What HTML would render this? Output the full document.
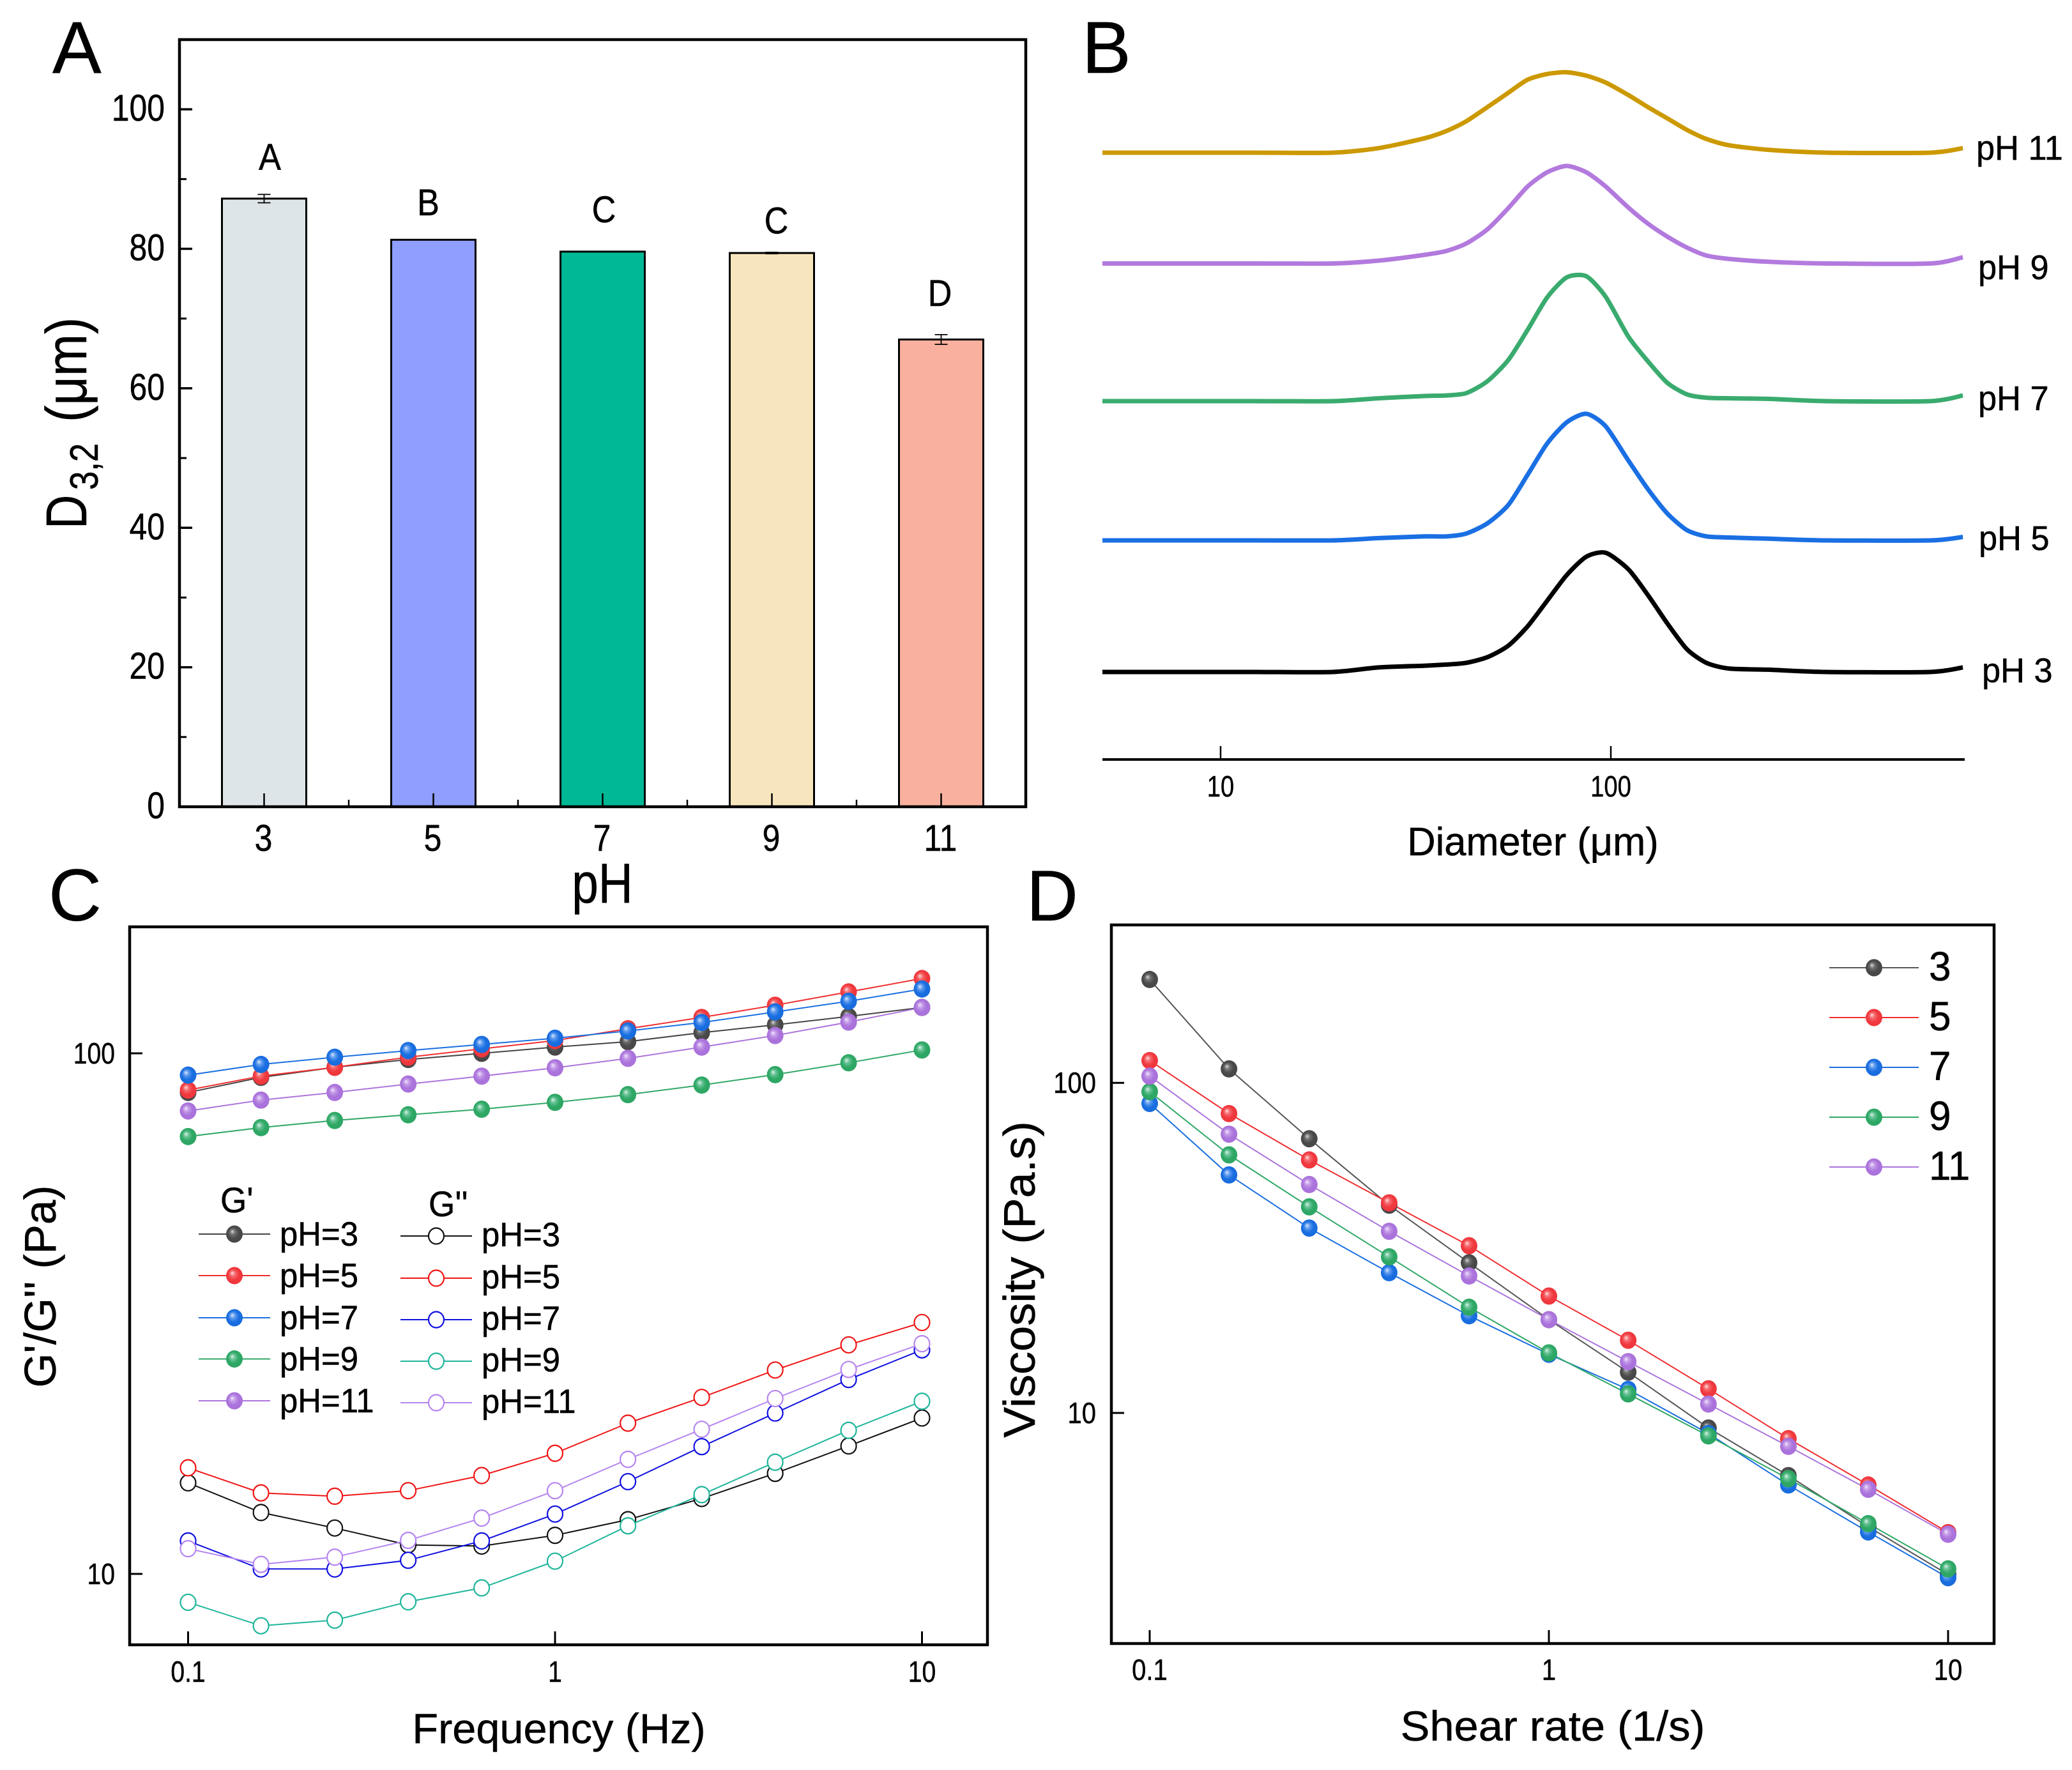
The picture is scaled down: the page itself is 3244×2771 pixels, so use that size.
<!DOCTYPE html>
<html lang="en">
<head>
<meta charset="utf-8">
<title>Emulsion particle size and rheology vs pH</title>
<style>
html,body{margin:0;padding:0;background:#fff;width:3244px;height:2771px;overflow:hidden}
svg{display:block}
text{font-family:"Liberation Sans",sans-serif;fill:#000;stroke:#000;stroke-width:.5px}
</style>
</head>
<body>
<svg id="fig" xmlns="http://www.w3.org/2000/svg" width="3244" height="2771" viewBox="0 0 3244 2771">
  <defs>
    <radialGradient id="sph-black" cx="0.5" cy="0.5" r="0.6" fx="0.36" fy="0.34"><stop offset="0" stop-color="#d8d8d8"/><stop offset="0.26" stop-color="#707070"/><stop offset="0.55" stop-color="#4a4a4a"/><stop offset="1" stop-color="#454545"/></radialGradient>
    <radialGradient id="sph-red" cx="0.5" cy="0.5" r="0.6" fx="0.36" fy="0.34"><stop offset="0" stop-color="#fde0e0"/><stop offset="0.26" stop-color="#f56a6e"/><stop offset="0.55" stop-color="#f03a40"/><stop offset="1" stop-color="#ee3338"/></radialGradient>
    <radialGradient id="sph-blue" cx="0.5" cy="0.5" r="0.6" fx="0.36" fy="0.34"><stop offset="0" stop-color="#dce8fb"/><stop offset="0.26" stop-color="#5c9aee"/><stop offset="0.55" stop-color="#1a6fe0"/><stop offset="1" stop-color="#1769dc"/></radialGradient>
    <radialGradient id="sph-green" cx="0.5" cy="0.5" r="0.6" fx="0.36" fy="0.34"><stop offset="0" stop-color="#dcf3e7"/><stop offset="0.26" stop-color="#66c294"/><stop offset="0.55" stop-color="#2fa866"/><stop offset="1" stop-color="#2ba562"/></radialGradient>
    <radialGradient id="sph-purple" cx="0.5" cy="0.5" r="0.6" fx="0.36" fy="0.34"><stop offset="0" stop-color="#f2e7fb"/><stop offset="0.26" stop-color="#c49ae8"/><stop offset="0.55" stop-color="#ab74dc"/><stop offset="1" stop-color="#a870da"/></radialGradient>
  </defs>
  <g id="panel-a"></g>
  <g id="panel-b"></g>
  <g id="panel-c"></g>
  <g id="panel-d"></g>
</svg>
<script>
// ---------- Panel A data ----------
const barCategories = ['3', '5', '7', '9', '11'];
const barValues = [87.2, 81.3, 79.6, 79.4, 67.0];
const barErrors = [0.6, 0, 0, 0.1, 0.7];
const barLetters = ['A', 'B', 'C', 'C', 'D'];
const barLetterValues = [91.3, 84.8, 83.8, 82.2, 71.8];
const barTicks = [0, 20, 40, 60, 80, 100];
const barMinorTicks = [10, 30, 50, 70, 90];

// ---------- Panel B data ----------
const diameters = [4.98, 7.88, 12.25, 19.4, 25.4, 33.2, 37.9, 42.6, 48.3, 54.6, 61.2, 68.7, 77.1, 86.5, 97, 110.9, 124.4, 139.6, 156.6, 175.7, 200.9, 252.9, 356.7, 659, 798];
const sizePH11 = [0, 0, 0, 0, 0.8, 2.5, 3.8, 5.5, 8, 10.5, 12.8, 13.8, 14.1, 13.5, 12.3, 10.1, 8, 6, 4, 2.4, 1.3, 0.5, 0, 0, 0.8];
const sizePH9 = [0, 0, 0, 0, 0.5, 1.5, 2.2, 3.5, 6, 9.7, 13.5, 16, 17.1, 16, 13.5, 9.8, 7, 4.7, 2.8, 1.4, 0.8, 0.3, 0, 0, 1.1];
const sizePH7 = [0, 0, 0, 0, 0.5, 0.9, 1, 1.4, 3.5, 7.2, 12.5, 18.2, 21.7, 21.9, 18.3, 11.3, 7, 3.2, 1.2, 0.6, 0.5, 0.4, 0, 0, 1];
const sizePH5 = [0, 0, 0, 0, 0.4, 0.7, 0.7, 1.2, 3, 6.2, 11.5, 17, 20.7, 22.2, 20, 14, 9, 4.7, 1.8, 0.7, 0.5, 0.3, 0, 0, 0.6];
const sizePH3 = [0, 0, 0, 0, 0.8, 1.1, 1.3, 1.6, 2.6, 4.6, 8, 12.5, 17, 20.2, 20.9, 18, 13.5, 8.5, 4, 1.6, 0.6, 0.4, 0, 0, 0.8];
const diameterTicks = [10, 100];

// ---------- Panel C data ----------
const frequencies = [0.1, 0.158, 0.251, 0.398, 0.631, 1, 1.58, 2.51, 3.98, 6.31, 10];
const storagePH3 = [84.1, 89.9, 94.0, 97.3, 100, 102.8, 105.3, 109.6, 113.4, 117.7, 122.5];
const storagePH5 = [85.0, 90.4, 94.0, 98.3, 102.0, 105.8, 111.5, 117.2, 123.7, 131.2, 139.2];
const storagePH7 = [90.8, 95.2, 98.3, 101.2, 104, 106.9, 110.4, 114.6, 120.1, 125.9, 132.9];
const storagePH9 = [69.2, 72.0, 74.3, 76.2, 78.1, 80.5, 83.3, 86.9, 91.0, 95.9, 101.5];
const storagePH11 = [77.5, 81.3, 84.1, 87.3, 90.4, 93.8, 97.8, 102.8, 108.2, 114.8, 122.5];
const lossPH3 = [14.96, 13.12, 12.25, 11.37, 11.31, 11.86, 12.71, 13.96, 15.60, 17.61, 19.93];
const lossPH5 = [15.99, 14.31, 14.10, 14.45, 15.45, 17.05, 19.48, 21.83, 24.64, 27.54, 30.40];
const lossPH7 = [11.57, 10.22, 10.22, 10.62, 11.57, 13.03, 15.04, 17.56, 20.37, 23.63, 26.94];
const lossPH9 = [8.82, 7.95, 8.15, 8.84, 9.40, 10.58, 12.37, 14.20, 16.39, 18.87, 21.46];
const lossPH11 = [11.18, 10.43, 10.77, 11.60, 12.80, 14.45, 16.60, 18.96, 21.72, 24.70, 27.68];
const freqTickValues = [0.1, 1, 10];
const freqTickLabels = ['0.1', '1', '10'];
const modulusTicks = [10, 100];

// ---------- Panel D data ----------
const shearRates = [0.1, 0.158, 0.251, 0.398, 0.631, 1, 1.58, 2.51, 3.98, 6.31, 10];
const viscPH3 = [205.6, 110.2, 67.7, 42.6, 28.5, 19.17, 13.29, 9.0, 6.46, 4.52, 3.24];
const viscPH5 = [116.8, 80.7, 58.4, 43.3, 32.1, 22.6, 16.6, 11.83, 8.36, 6.05, 4.34];
const viscPH7 = [86.6, 52.6, 36.3, 26.6, 19.7, 15.06, 11.78, 8.66, 6.05, 4.36, 3.17];
const viscPH9 = [94.0, 60.5, 42.1, 29.7, 20.9, 15.2, 11.42, 8.52, 6.32, 4.62, 3.37];
const viscPH11 = [104.8, 69.9, 49.2, 35.5, 26.0, 19.17, 14.3, 10.64, 7.92, 5.87, 4.29];
const viscTicks = [10, 100];

const NS = 'http://www.w3.org/2000/svg';

function shape(parent, tag, attrs, name) {
  const el = document.createElementNS(NS, tag);
  for (const k in attrs) el.setAttribute(k, attrs[k]);
  
  
  parent.appendChild(el);
  return el;
}
function label(parent, str, x, y, size, k, anchor, rot, name) {
  const el = document.createElementNS(NS, 'text');
  el.textContent = str;
  el.setAttribute('font-size', size);
  el.setAttribute('text-anchor', anchor || 'start');
  el.setAttribute('transform', 'translate(' + x + ' ' + y + ') rotate(' + (rot || 0) + ') scale(' + k + ' 1)');
  
  
  parent.appendChild(el);
  return el;
}
function tick(parent, x1, y1, x2, y2, w, name) {
  return shape(parent, 'line', {x1: x1, y1: y1, x2: x2, y2: y2, stroke: '#000', 'stroke-width': w}, name);
}
function frame(parent, box, name) {
  return shape(parent, 'rect', {x: box.l, y: box.t, width: box.r - box.l, height: box.b - box.t, fill: 'none', stroke: '#000', 'stroke-width': 4.5}, name);
}
function polyline(parent, pts, color, w, name) {
  return shape(parent, 'polyline', {points: pts.map(p => p[0].toFixed(1) + ',' + p[1].toFixed(1)).join(' '), fill: 'none', stroke: color, 'stroke-width': w, 'stroke-linejoin': 'round'}, name);
}
function smoothLine(parent, pts, color, w, name) {
  let d = 'M' + pts[0][0].toFixed(1) + ' ' + pts[0][1].toFixed(1);
  for (let i = 0; i < pts.length - 1; i++) {
    const p0 = pts[Math.max(i - 1, 0)], p1 = pts[i], p2 = pts[i + 1], p3 = pts[Math.min(i + 2, pts.length - 1)];
    const t = 0.12;
    const c1x = p1[0] + (p2[0] - p0[0]) * t, c1y = p1[1] + (p2[1] - p0[1]) * t;
    const c2x = p2[0] - (p3[0] - p1[0]) * t, c2y = p2[1] - (p3[1] - p1[1]) * t;
    d += 'C' + c1x.toFixed(1) + ' ' + c1y.toFixed(1) + ' ' + c2x.toFixed(1) + ' ' + c2y.toFixed(1) + ' ' + p2[0].toFixed(1) + ' ' + p2[1].toFixed(1);
  }
  return shape(parent, 'path', {d: d, fill: 'none', stroke: color, 'stroke-width': w, 'stroke-linejoin': 'round'}, name);
}
function solidMarker(parent, x, y, grad, name) {
  return shape(parent, 'ellipse', {cx: x, cy: y, rx: 13, ry: 13.5, fill: 'url(#' + grad + ')'}, name);
}
function openMarker(parent, x, y, color, name) {
  return shape(parent, 'ellipse', {cx: x, cy: y, rx: 12, ry: 12.5, fill: '#fff', stroke: color, 'stroke-width': 2.2}, name);
}

// ========== Panel A ==========
(function () {
  const g = document.getElementById('panel-a');
  const box = {l: 281, r: 1606, t: 62, b: 1263};
  const xA = i => box.l + (i + 0.5) * (box.r - box.l) / barCategories.length;
  const yA = v => box.b - v * (box.b - box.t) / 110;
  const barColors = ['#dde5e8', '#909eff', '#00b894', '#f7e6bd', '#fab09e'];
  const bw = 132;
  barValues.forEach((v, i) => {
    shape(g, 'rect', {x: xA(i) - bw / 2, y: yA(v), width: bw, height: yA(0) - yA(v), fill: barColors[i], stroke: '#000', 'stroke-width': 3}, 'bar-ph-' + barCategories[i]);
    const e = barErrors[i];
    if (e > 0) {
      tick(g, xA(i), yA(v + e), xA(i), yA(v - e), 1.8, 'error-bar-ph-' + barCategories[i]);
      tick(g, xA(i) - 10, yA(v + e), xA(i) + 10, yA(v + e), 1.8, 'error-cap-upper-ph-' + barCategories[i]);
      tick(g, xA(i) - 10, yA(v - e), xA(i) + 10, yA(v - e), 1.8, 'error-cap-lower-ph-' + barCategories[i]);
    }
    label(g, barLetters[i], xA(i) + [9, -8, 2, 7, -2][i], yA(barLetterValues[i]), 58, 0.9, 'middle', 0, 'significance-letter-' + barLetters[i]);
  });
  frame(g, box, 'plot-frame');
  barTicks.forEach(v => {
    if (v > 0) tick(g, box.l, yA(v), box.l + 20, yA(v), 3.5, 'y-tick-' + v);
    label(g, String(v), 258, yA(v) + 18, 58, 0.86, 'end', 0, 'y-tick-label-' + v);
  });
  barMinorTicks.forEach(v => {
    tick(g, box.l, yA(v), box.l + 11, yA(v), 3, 'y-minor-tick-' + v);
  });
  barCategories.forEach((c, i) => {
    tick(g, xA(i), box.b, xA(i), box.b - 21, 2.5, 'x-tick-' + c);
    label(g, c, xA(i) - 1, 1332, 58, 0.86, 'middle', 0, 'x-tick-label-' + c);
    if (i < barCategories.length - 1) {
      tick(g, xA(i + 0.5), box.b, xA(i + 0.5), box.b - 11, 2.5, 'x-minor-tick-' + i);
    }
  });
  label(g, 'pH', 943, 1413, 88, 0.85, 'middle', 0, 'x-axis-title');
  label(g, 'D', 135, 828, 90, 0.82, 'start', -90, 'y-axis-title-d');
  label(g, '3,2', 153, 767, 62, 0.85, 'start', -90, 'y-axis-title-subscript');
  label(g, '(μm)', 135, 661, 90, 0.88, 'start', -90, 'y-axis-title-unit');
  label(g, 'A', 82, 114, 115, 1, 'start', 0, 'panel-label-a');
})();

// ========== Panel B ==========
(function () {
  const g = document.getElementById('panel-b');
  const xB = d => 1911 + (Math.log10(d) - 1) * 611;
  const yB = (base, v) => base - v * 8.93;
  const series = [
    {n: 'pH 11', v: sizePH11, base: 239, c: '#cc9900', lx: 3094, ly: 250},
    {n: 'pH 9', v: sizePH9, base: 412.5, c: '#b37ade', lx: 3097, ly: 437},
    {n: 'pH 7', v: sizePH7, base: 628, c: '#3aab6e', lx: 3097, ly: 642},
    {n: 'pH 5', v: sizePH5, base: 846, c: '#1a6fe3', lx: 3098, ly: 861},
    {n: 'pH 3', v: sizePH3, base: 1052, c: '#000000', lx: 3103, ly: 1068}
  ];
  series.forEach(s => {
    const pts = diameters.map((d, i) => [xB(d), yB(s.base, s.v[i])]);
    smoothLine(g, pts, s.c, 7, 'distribution-line-' + s.n.replace(' ', '-').toLowerCase());
    label(g, s.n, s.lx, s.ly, 54, 0.97, 'start', 0, 'series-label-' + s.n.replace(' ', '-').toLowerCase());
  });
  tick(g, 1726, 1189, 3076, 1189, 4, 'x-axis-line');
  diameterTicks.forEach(d => {
    tick(g, xB(d), 1189, xB(d), 1168, 2.5, 'x-tick-' + d);
    label(g, String(d), xB(d), 1247, 46, 0.83, 'middle', 0, 'x-tick-label-' + d);
  });
  label(g, 'Diameter (μm)', 2400, 1339, 62, 0.99, 'middle', 0, 'x-axis-title');
  label(g, 'B', 1694, 114, 115, 1, 'start', 0, 'panel-label-b');
})();

// ========== Panel C ==========
(function () {
  const g = document.getElementById('panel-c');
  const box = {l: 203, r: 1546, t: 1451, b: 2575};
  const xC = f => 869 + Math.log10(f) * 574.5;
  const yC = v => 2464 - (Math.log10(v) - 1) * 815;
  const solids = [
    {n: 'pH=3', v: storagePH3, c: '#444444', grad: 'sph-black'},
    {n: 'pH=5', v: storagePH5, c: '#f02e30', grad: 'sph-red'},
    {n: 'pH=7', v: storagePH7, c: '#1a6fe0', grad: 'sph-blue'},
    {n: 'pH=9', v: storagePH9, c: '#2fa866', grad: 'sph-green'},
    {n: 'pH=11', v: storagePH11, c: '#ab74dc', grad: 'sph-purple'}
  ];
  const opens = [
    {n: 'pH=3', v: lossPH3, c: '#111111'},
    {n: 'pH=5', v: lossPH5, c: '#f01515'},
    {n: 'pH=7', v: lossPH7, c: '#1010e0'},
    {n: 'pH=9', v: lossPH9, c: '#1fb59a'},
    {n: 'pH=11', v: lossPH11, c: '#b585f0'}
  ];
  const slug = s => s.replace('=', '-').toLowerCase();
  solids.forEach(s => {
    polyline(g, frequencies.map((f, i) => [xC(f), yC(s.v[i])]), s.c, 2, 'storage-line-' + slug(s.n));
  });
  solids.forEach(s => {
    frequencies.forEach((f, i) => {
      solidMarker(g, xC(f), yC(s.v[i]), s.grad, 'storage-point-' + slug(s.n));
    });
  });
  opens.forEach(s => {
    polyline(g, frequencies.map((f, i) => [xC(f), yC(s.v[i])]), s.c, 2, 'loss-line-' + slug(s.n));
    frequencies.forEach((f, i) => {
      openMarker(g, xC(f), yC(s.v[i]), s.c, 'loss-point-' + slug(s.n));
    });
  });
  frame(g, box, 'plot-frame');
  freqTickValues.forEach((f, i) => {
    tick(g, xC(f), box.b, xC(f), box.b - 21, 3, 'x-tick-' + freqTickLabels[i]);
    label(g, freqTickLabels[i], xC(f), 2633, 46, 0.85, 'middle', 0, 'x-tick-label-' + freqTickLabels[i]);
  });
  modulusTicks.forEach(v => {
    tick(g, box.l, yC(v), box.l + 20, yC(v), 3, 'y-tick-' + v);
    label(g, String(v), 180, yC(v) + 16, 46, 0.85, 'end', 0, 'y-tick-label-' + v);
  });
  label(g, 'Frequency (Hz)', 875, 2729, 66, 1.01, 'middle', 0, 'x-axis-title');
  label(g, 'G\'/G\'\' (Pa)', 87, 2014, 70, 0.99, 'middle', -90, 'y-axis-title');
  label(g, 'C', 76, 1441, 115, 1, 'start', 0, 'panel-label-c');

  // Legends
  label(g, 'G\'', 345, 1898, 56, 0.95, 'start', 0, 'legend-title-storage');
  label(g, 'G\'\'', 671, 1904, 56, 0.95, 'start', 0, 'legend-title-loss');
  const leftRows = [1932, 1997, 2063, 2127.5, 2193];
  solids.forEach((s, i) => {
    tick(g, 311, leftRows[i], 423, leftRows[i], 2, 'legend-line-storage-' + slug(s.n)).setAttribute('stroke', s.c);
    solidMarker(g, 367, leftRows[i], s.grad, 'legend-marker-storage-' + slug(s.n));
    label(g, s.n, 438, leftRows[i] + 18, 53, 0.96, 'start', 0, 'legend-label-storage-' + slug(s.n));
  });
  const rightRows = [1935, 2001, 2066, 2131, 2196];
  opens.forEach((s, i) => {
    tick(g, 627, rightRows[i], 739, rightRows[i], 2, 'legend-line-loss-' + slug(s.n)).setAttribute('stroke', s.c);
    openMarker(g, 683, rightRows[i], s.c, 'legend-marker-loss-' + slug(s.n));
    label(g, s.n, 754, rightRows[i] + 16, 53, 0.96, 'start', 0, 'legend-label-loss-' + slug(s.n));
  });
})();

// ========== Panel D ==========
(function () {
  const g = document.getElementById('panel-d');
  const box = {l: 1740, r: 3122, t: 1448, b: 2573};
  const xD = r => 2425 + Math.log10(r) * 625;
  const yD = v => 2212 - (Math.log10(v) - 1) * 516.8;
  const series = [
    {n: '3', v: viscPH3, c: '#555555', grad: 'sph-black'},
    {n: '5', v: viscPH5, c: '#f02e30', grad: 'sph-red'},
    {n: '7', v: viscPH7, c: '#1a6fe0', grad: 'sph-blue'},
    {n: '9', v: viscPH9, c: '#2fa866', grad: 'sph-green'},
    {n: '11', v: viscPH11, c: '#ab74dc', grad: 'sph-purple'}
  ];
  series.forEach(s => {
    polyline(g, shearRates.map((r, i) => [xD(r), yD(s.v[i])]), s.c, 2, 'viscosity-line-ph-' + s.n);
  });
  series.forEach(s => {
    shearRates.forEach((r, i) => {
      solidMarker(g, xD(r), yD(s.v[i]), s.grad, 'viscosity-point-ph-' + s.n);
    });
  });
  frame(g, box, 'plot-frame');
  freqTickValues.forEach((f, i) => {
    tick(g, xD(f), box.b, xD(f), box.b - 21, 3, 'x-tick-' + freqTickLabels[i]);
    label(g, freqTickLabels[i], xD(f), 2630, 46, 0.87, 'middle', 0, 'x-tick-label-' + freqTickLabels[i]);
  });
  viscTicks.forEach(v => {
    tick(g, box.l, yD(v), box.l + 20, yD(v), 3, 'y-tick-' + v);
    label(g, String(v), 1716, yD(v) + 16, 46, 0.87, 'end', 0, 'y-tick-label-' + v);
  });
  label(g, 'Shear rate (1/s)', 2431, 2725, 66, 1.04, 'middle', 0, 'x-axis-title');
  label(g, 'Viscosity (Pa.s)', 1620, 2003, 70, 1.03, 'middle', -90, 'y-axis-title');
  label(g, 'D', 1607, 1441, 112, 1, 'start', 0, 'panel-label-d');
  const rows = [1515, 1593, 1671, 1749, 1827];
  series.forEach((s, i) => {
    tick(g, 2864, rows[i], 3004, rows[i], 2, 'legend-line-ph-' + s.n).setAttribute('stroke', s.c);
    solidMarker(g, 2934, rows[i], s.grad, 'legend-marker-ph-' + s.n);
    label(g, s.n, 3020, rows[i] + 20, 64, 0.97, 'start', 0, 'legend-label-ph-' + s.n);
  });
})();
</script>
</body>
</html>
